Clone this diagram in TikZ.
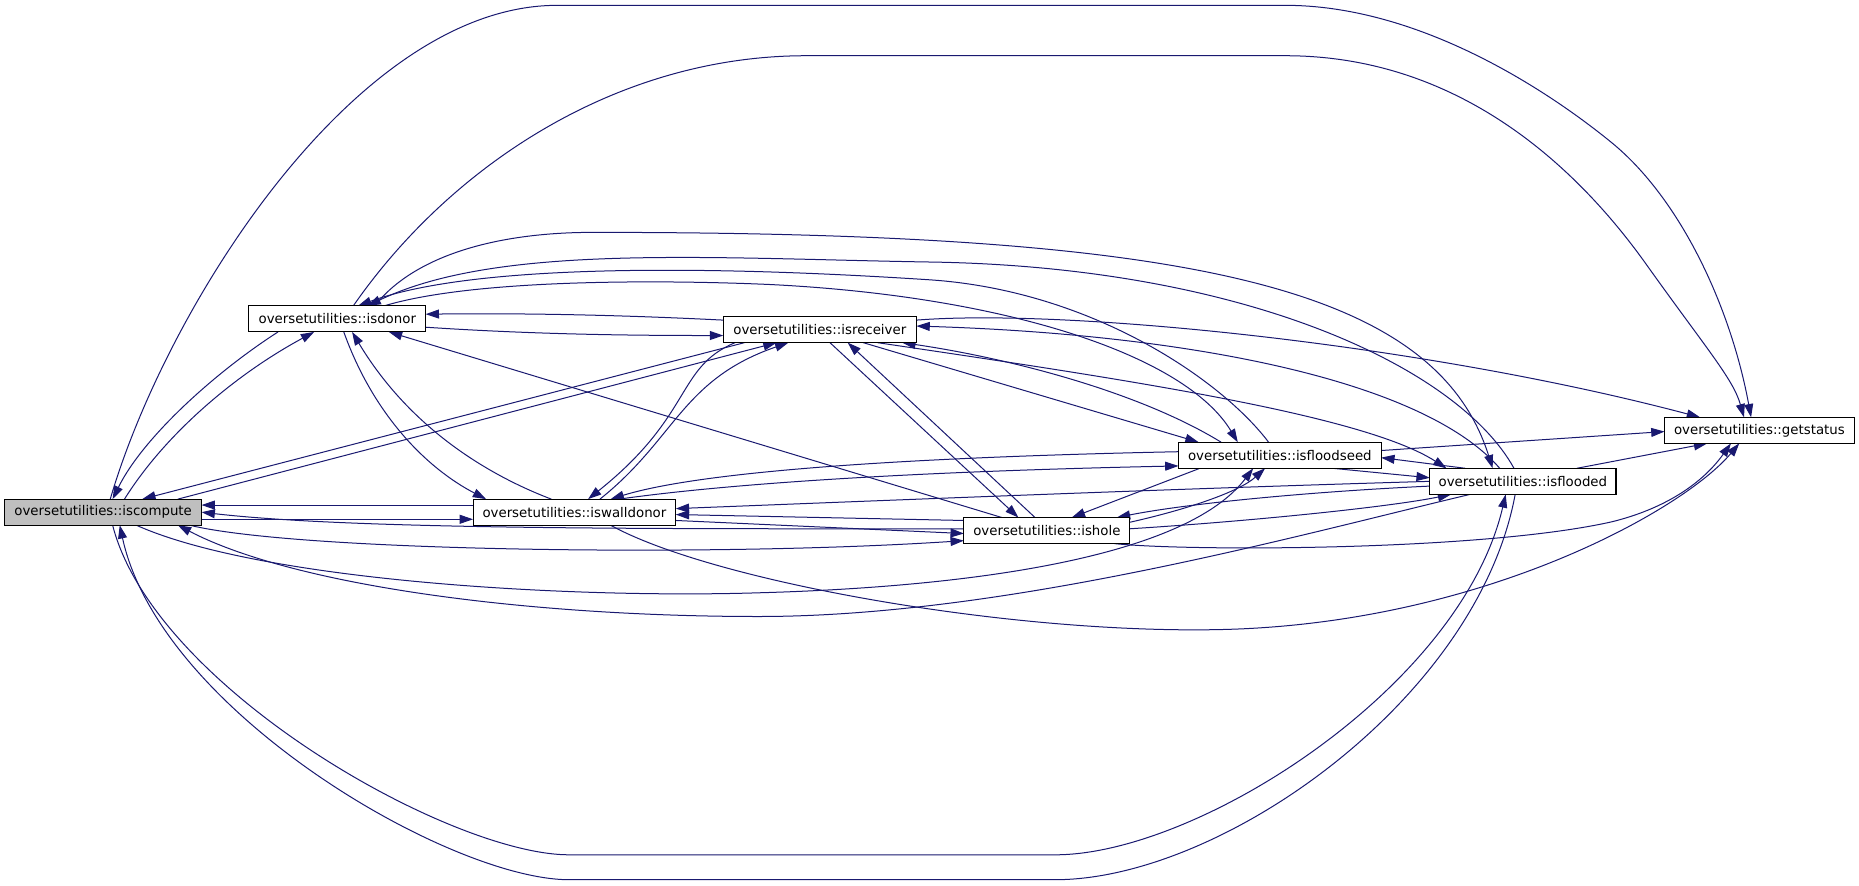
\documentclass[tikz,border=0pt]{standalone}
\usepackage{fontspec}
\setmainfont{DejaVu Sans}
\usetikzlibrary{arrows.meta,calc}
\definecolor{edgeblue}{RGB}{25,25,112}
\definecolor{rootgray}{RGB}{191,191,191}
\pgfdeclarelayer{back}
\pgfdeclarelayer{edges}
\pgfsetlayers{back,edges,main}
\begin{document}
\begin{tikzpicture}[x=0.8891pt,y=-0.8891pt,
  fnode/.style={draw=black, line width=0.8pt, fill=white, inner sep=0pt, outer sep=0pt,
    minimum height=19.56pt, font=\fontsize{10pt}{12pt}\selectfont, text=black},
  rootnode/.style={fnode, fill=rootgray},
  call/.style={draw=edgeblue, line width=0.75pt, -{Triangle[length=10pt,width=6.7pt]}}]
\begin{pgfonlayer}{back}
\fill[white] (0,0) rectangle (1568,746.5);
\end{pgfonlayer}
\useasboundingbox (0,0) rectangle (1568,746.5);

\node[rootnode, minimum width=147.6pt] (C) at (87,432) {oversetutilities::iscompute};
\node[fnode, minimum width=132.5pt] (D) at (284.5,269) {oversetutilities::isdonor};
\node[fnode, minimum width=144.9pt] (R) at (691.5,278) {oversetutilities::isreceiver};
\node[fnode, minimum width=152.0pt] (W) at (484.5,432) {oversetutilities::iswalldonor};
\node[fnode, minimum width=124.5pt] (H) at (883,447.5) {oversetutilities::ishole};
\node[fnode, minimum width=152.0pt] (S) at (1079.5,384) {oversetutilities::isfloodseed};
\node[fnode, minimum width=139.6pt] (F) at (1284.5,406) {oversetutilities::isflooded};
\node[fnode, minimum width=142.3pt] (G) at (1484,363) {oversetutilities::getstatus};

\begin{pgfonlayer}{edges}
% top arcs
\draw[call] ($(C.north west)+(89,0)$) .. controls (140,260) and (300,4.5) .. (470,4.5) -- (1084,4.5)
  .. controls (1200,4.5) and (1310,80) .. (1359,120) .. controls (1418,168) and (1460,260) .. ($(G.north west)+(73,0)$);
\draw[call] ($(D.north west)+(88,0)$) .. controls (380,140) and (520,47) .. (680,47) -- (1084,47)
  .. controls (1230,47) and (1330,140) .. (1390,225) .. controls (1440,295) and (1462,320) .. ($(G.north west)+(67,0)$);
% C <-> D
\draw[call] ($(D.south west)+(24.5,0)$) .. controls (180,315) and (120,370) .. ($(C.north west)+(91,0)$);
\draw[call] ($(C.north west)+(101,0)$) .. controls (140,365) and (200,315) .. ($(D.south west)+(55,0)$);
% C <-> R
\draw[call] ($(R.south west)+(18,0)$) -- ($(C.north west)+(116,0)$);
\draw[call] ($(C.north west)+(146,0)$) -- ($(R.south west)+(45,0)$);
% C <-> W
\draw[call] ($(W.north west)+(0,5)$) -- ($(C.north east)+(0,5)$);
\draw[call] ($(C.north east)+(0,17)$) -- ($(W.north west)+(0,17)$);
% C <-> H
\draw[call] ($(H.north west)+(0,9.5)$) .. controls (560,446) and (300,447) .. ($(C.north east)+(0,11)$);
\draw[call] ($(C.south west)+(156,0)$) .. controls (250,465) and (600,470) .. ($(H.north west)+(0,19.5)$);
% W <-> H
\draw[call] ($(W.north east)+(0,18)$) -- ($(H.north west)+(0,13.5)$);
\draw[call] ($(H.north west)+(0,2.5)$) -- ($(W.north east)+(0,13)$);
% bottom loops C <-> F
\draw[call] ($(C.south west)+(91,0)$) .. controls (130,580) and (380,721) .. (480,721) -- (890,721)
  .. controls (1010,721) and (1232,580) .. ($(F.south west)+(64,0)$);
\draw[call] ($(F.south west)+(72,0)$) .. controls (1246,590) and (1030,742) .. (890,742) -- (480,742)
  .. controls (380,742) and (135,600) .. ($(C.south west)+(97,0)$);
% lower curves
\draw[call] ($(C.south west)+(111,0)$) .. controls (220,490) and (480,505) .. (640,500)
  .. controls (820,495) and (1000,470) .. ($(S.south west)+(63,0)$);
\draw[call] ($(F.south west)+(34,0)$) .. controls (1100,450) and (850,520) .. (640,520)
  .. controls (450,520) and (250,495) .. ($(C.south west)+(146,0)$);
% D <-> F, D <-> S (upper curves)
\draw[call] ($(D.north west)+(106,0)$) .. controls (350,215) and (420,196) .. (500,196)
  .. controls (1000,196) and (1210,240) .. ($(F.north west)+(53,0)$);
\draw[call] ($(F.north west)+(71,0)$) .. controls (1230,310) and (1050,225) .. (784,221)
  .. controls (600,218) and (420,205) .. ($(D.north west)+(100,0)$);
\draw[call] ($(D.north west)+(114,0)$) .. controls (400,235) and (560,236) .. (650,240)
  .. controls (850,250) and (1000,300) .. ($(S.north west)+(50,0)$);
\draw[call] ($(S.north west)+(76,0)$) .. controls (1030,320) and (920,245) .. (784,236)
  .. controls (600,224) and (400,222) .. ($(D.north west)+(92,0)$);
% D <-> R
\draw[call] ($(D.north east)+(0,18)$) .. controls (450,282) and (530,283) .. ($(R.north west)+(0,16)$);
\draw[call] ($(R.north west)+(0,3)$) .. controls (530,266) and (450,264) .. ($(D.north east)+(0,7)$);
% D <-> W
\draw[call] ($(D.south west)+(80,0)$) .. controls (315,350) and (360,395) .. ($(W.north west)+(11,0)$);
\draw[call] ($(W.north west)+(66,0)$) .. controls (410,400) and (345,360) .. ($(D.south west)+(87,0)$);
% H -> D
\draw[call] ($(H.north west)+(32,0)$) -- ($(D.south west)+(118,0)$);
% R <-> W
\draw[call] ($(R.south west)+(10,0)$) .. controls (570,310) and (585,350) .. ($(W.north west)+(97,0)$);
\draw[call] ($(W.north west)+(107,0)$) .. controls (570,370) and (575,320) .. ($(R.south west)+(55,0)$);
% R <-> H
\draw[call] ($(R.south west)+(90,0)$) -- ($(H.north west)+(46,0)$);
\draw[call] ($(H.north west)+(60,0)$) -- ($(R.south west)+(105,0)$);
% R <-> S, R <-> F, R -> G
\draw[call] ($(R.south west)+(118,0)$) -- ($(S.north west)+(17,0)$);
\draw[call] ($(S.north west)+(36,0)$) .. controls (960,330) and (850,302) .. ($(R.south west)+(151,0)$);
\draw[call] ($(R.south west)+(130,0)$) .. controls (950,320) and (1150,350) .. ($(F.north west)+(14,0)$);
\draw[call] ($(F.north west)+(59,0)$) .. controls (1200,320) and (1000,282) .. ($(R.north east)+(0,8)$);
\draw[call] ($(R.north east)+(0,3)$) .. controls (900,260) and (1200,290) .. ($(G.north west)+(30,0)$);
% S <-> W, F -> W, W -> G
\draw[call] ($(S.north west)+(0,8)$) .. controls (800,385) and (600,395) .. ($(W.north west)+(116,0)$);
\draw[call] ($(W.north west)+(123,0)$) .. controls (650,403) and (850,396) .. ($(S.north west)+(0,20)$);
\draw[call] ($(F.north west)+(0,11)$) .. controls (1000,412) and (800,420) .. ($(W.north east)+(0,8)$);
\draw[call] ($(W.south west)+(116,0)$) .. controls (600,490) and (850,535) .. (1030,531)
  .. controls (1250,526) and (1420,430) .. ($(G.south west)+(63,0)$);
% H -> G, H <-> F, H <-> S
\draw[call] ($(H.south west)+(127,0)$) .. controls (1000,465) and (1250,465) .. (1360,440)
  .. controls (1420,425) and (1445,395) .. ($(G.south west)+(56,0)$);
\draw[call] ($(H.north east)+(0,9.5)$) .. controls (1050,440) and (1170,428) .. ($(F.south west)+(18,0)$);
\draw[call] ($(F.north west)+(0,15)$) .. controls (1100,415) and (1000,425) .. ($(H.north west)+(129,0)$);
\draw[call] ($(H.north east)+(0,4)$) .. controls (1000,430) and (1045,415) .. ($(S.south west)+(73,0)$);
\draw[call] ($(S.south west)+(18,0)$) -- ($(H.north west)+(91,0)$);
% S <-> F, S -> G, F -> G
\draw[call] ($(S.south west)+(130,0)$) -- ($(F.north west)+(0,8)$);
\draw[call] ($(F.north west)+(30,0)$) -- ($(S.north east)+(0,13)$);
\draw[call] ($(S.north east)+(0,7)$) -- ($(G.north west)+(0,12)$);
\draw[call] ($(F.north west)+(124,0)$) -- ($(G.south west)+(36,0)$);
\end{pgfonlayer}
\end{tikzpicture}
\end{document}
